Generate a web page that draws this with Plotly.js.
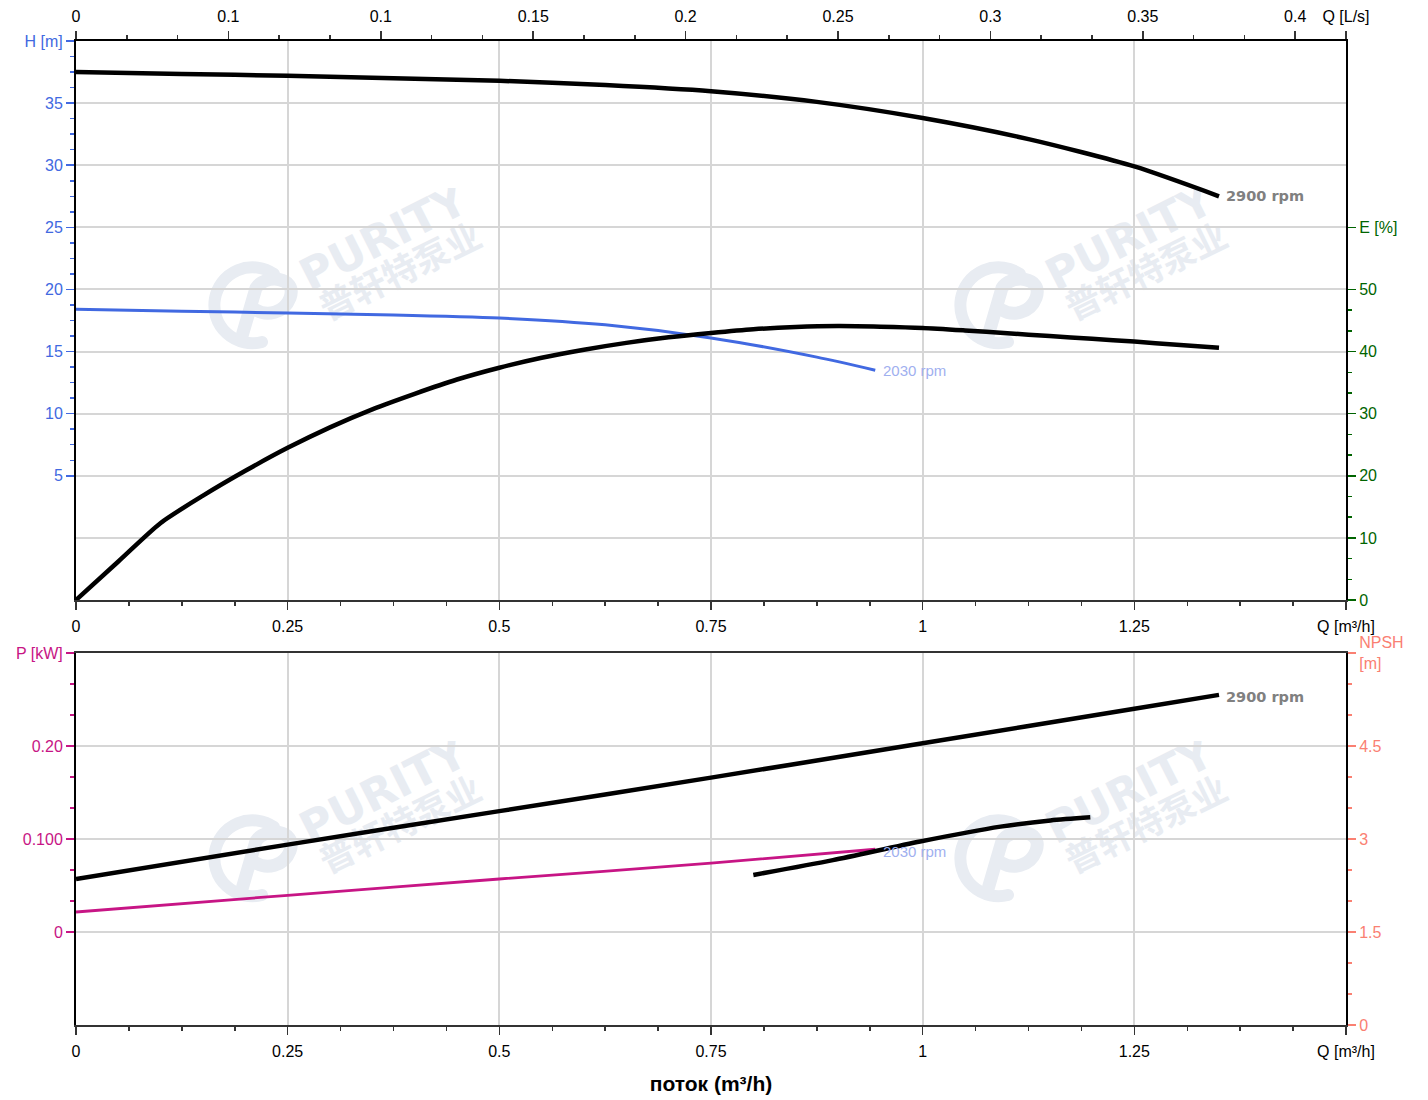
<!DOCTYPE html>
<html>
<head>
<meta charset="utf-8">
<script src="https://cdn.plot.ly/plotly-3.0.1.min.js"></script>
<style>html,body{margin:0;padding:0;background:#fff;}#chart{width:1428px;height:1100px;}</style>
</head>
<body>
<div id="chart"></div>
<script>
// ---- data ----
const qH2900 = [0, 0.125, 0.25, 0.375, 0.5, 0.625, 0.75, 0.875, 1.0, 1.125, 1.25, 1.35];
const h2900  = [37.5, 37.35, 37.2, 37.0, 36.8, 36.45, 35.95, 35.1, 33.8, 32.1, 29.9, 27.5];

const qH2030 = [0, 0.125, 0.25, 0.375, 0.5, 0.625, 0.75, 0.875, 0.944];
const h2030  = [18.4, 18.25, 18.1, 17.95, 17.7, 17.15, 16.1, 14.55, 13.5];

const qEff = [0, 0.05, 0.1, 0.15, 0.2, 0.25, 0.3, 0.35, 0.4, 0.45, 0.5, 0.55, 0.6, 0.65, 0.7, 0.75, 0.8, 0.85, 0.9, 0.95, 1.0, 1.05, 1.1, 1.15, 1.2, 1.25, 1.3, 1.35];
const eff  = [0, 6.2, 12.4, 16.8, 20.8, 24.5, 27.8, 30.7, 33.2, 35.5, 37.4, 39.0, 40.3, 41.4, 42.3, 43.0, 43.6, 43.95, 44.1, 44.0, 43.8, 43.4, 42.95, 42.5, 42.05, 41.6, 41.1, 40.6];

const qP2900 = [0, 0.25, 0.5, 0.75, 1.0, 1.25, 1.35];
const p2900  = [0.057, 0.094, 0.130, 0.166, 0.203, 0.240, 0.255];

const qP2030 = [0, 0.25, 0.5, 0.75, 0.944];
const p2030  = [0.0215, 0.0395, 0.057, 0.074, 0.089];

const qNpsh = [0.800, 0.894, 0.997, 1.092, 1.151, 1.198];
const npsh  = [2.42, 2.66, 2.96, 3.20, 3.30, 3.35];

// tick labels
const qTicks     = [0, 0.25, 0.5, 0.75, 1, 1.25, 1.5];
const qLabels    = ['0', '0.25', '0.5', '0.75', '1', '1.25', 'Q [m³/h]'];
const lpsTicks   = [0, 0.05, 0.1, 0.15, 0.2, 0.25, 0.3, 0.35, 0.4, 1.5 / 3.6];
const lpsLabels  = ['0', '0.1', '0.1', '0.15', '0.2', '0.25', '0.3', '0.35', '0.4', 'Q [L/s]'];
const hTicks     = [5, 10, 15, 20, 25, 30, 35, 40];
const hLabels    = ['5', '10', '15', '20', '25', '30', '35', 'H [m]'];
const eTicks     = [0, 10, 20, 30, 40, 50, 60];
const eLabels    = ['0', '10', '20', '30', '40', '50', 'E [%]'];
const pTicks     = [0, 0.1, 0.2, 0.3];
const pLabels    = ['0', '0.100', '0.20', 'P [kW]'];
const nTicks     = [0, 1.5, 3, 4.5, 6];
const nLabels    = ['0', '1.5', '3', '4.5', 'NPSH<br>[m]'];
const speedHigh  = '2900 rpm';
const speedLow   = '2030 rpm';
const xTitle     = 'поток (m³/h)';
const wmLatin    = 'PURITY';
const wmChinese  = '普轩特泵业';

// ---- styling ----
const FONT = 'Liberation Sans, Arial, sans-serif';
const BLUE = '#4169e1', GREEN = '#006400', MAG = '#c71585', SAL = '#fa8072';
const GRID = '#d6d6d6';

function range(a, b, step) { const r = []; for (let v = a; v <= b + 1e-9; v += step) r.push(+v.toFixed(6)); return r; }
function notMultiple(step) { return v => Math.abs(v / step - Math.round(v / step)) > 1e-6; }

const lineOf = (color, width) => ({color: color, width: width, shape: 'spline', smoothing: 0.7});
const traces = [
  {x: qH2900, y: h2900, xaxis: 'x', yaxis: 'y', mode: 'lines', line: lineOf('#000', 4.5), hoverinfo: 'skip', showlegend: false},
  {x: qH2030, y: h2030, xaxis: 'x', yaxis: 'y', mode: 'lines', line: lineOf(BLUE, 3), hoverinfo: 'skip', showlegend: false},
  {x: qEff, y: eff, xaxis: 'x', yaxis: 'y2', mode: 'lines', line: lineOf('#000', 4.5), hoverinfo: 'skip', showlegend: false},
  {x: [0], y: [null], xaxis: 'x3', yaxis: 'y', mode: 'lines', hoverinfo: 'skip', showlegend: false},
  {x: qP2900, y: p2900, xaxis: 'x2', yaxis: 'y3', mode: 'lines', line: lineOf('#000', 4.5), hoverinfo: 'skip', showlegend: false},
  {x: qP2030, y: p2030, xaxis: 'x2', yaxis: 'y3', mode: 'lines', line: lineOf(MAG, 2.8), hoverinfo: 'skip', showlegend: false},
  {x: qNpsh, y: npsh, xaxis: 'x2', yaxis: 'y4', mode: 'lines', line: lineOf('#000', 4.5), hoverinfo: 'skip', showlegend: false}
];

const TICKSIZE = 16;
const tickFont = {family: FONT, size: TICKSIZE, color: '#000'};
const minorQ = {tickvals: range(0, 1.5, 0.0625).filter(notMultiple(0.25)), ticklen: 4, tickcolor: '#333', tickwidth: 1.5, showgrid: false};

function qAxis(anchor) {
  return {
    domain: [0, 1], anchor: anchor, range: [0, 1.5], fixedrange: true,
    tickmode: 'array', tickvals: qTicks, ticktext: qLabels,
    ticks: 'outside', ticklen: 8, tickwidth: 1.5, tickcolor: '#333',
    showline: true, linecolor: '#333', linewidth: 2,
    showgrid: true, gridcolor: GRID, gridwidth: 2, zeroline: false,
    tickfont: tickFont, ticklabelstandoff: 3, minor: minorQ
  };
}

function yAxis(extra, color, minorVals) {
  return Object.assign({
    fixedrange: true, tickmode: 'array',
    ticks: 'outside', ticklen: 8, tickwidth: 1.5, tickcolor: color,
    showline: true, linecolor: '#000', linewidth: 2,
    showgrid: true, gridcolor: GRID, gridwidth: 2, zeroline: false,
    tickfont: {family: FONT, size: TICKSIZE, color: color},
    minor: {tickvals: minorVals, ticklen: 4, tickwidth: 1.5, tickcolor: color, showgrid: false}
  }, extra);
}

const layout = {
  width: 1428, height: 1100,
  margin: {l: 76, r: 82, t: 41, b: 75},
  paper_bgcolor: '#fff', plot_bgcolor: '#fff',
  font: {family: FONT, size: TICKSIZE},
  xaxis: qAxis('y'),
  xaxis2: Object.assign(qAxis('y3'), {mirror: true, title: {text: '<b>' + xTitle + '</b>', font: {family: FONT, size: 21, color: '#000'}, standoff: 17}}),
  xaxis3: {
    overlaying: 'x', side: 'top', anchor: 'y', range: [0, 1.5 / 3.6], fixedrange: true,
    tickmode: 'array', tickvals: lpsTicks, ticktext: lpsLabels,
    ticks: 'outside', ticklen: 8, tickwidth: 1.5, tickcolor: '#333',
    showline: true, linecolor: '#000', linewidth: 2, showgrid: false, zeroline: false,
    tickfont: tickFont, ticklabelstandoff: 3,
    minor: {tickvals: range(0, 0.4, 0.05 / 3).filter(notMultiple(0.05)), ticklen: 4, tickwidth: 1.5, tickcolor: '#333', showgrid: false}
  },
  yaxis: yAxis({domain: [0.4319, 1], anchor: 'x', range: [-5, 40], tickvals: hTicks, ticktext: hLabels}, BLUE, range(5, 40, 1.25).filter(notMultiple(5))),
  yaxis2: yAxis({overlaying: 'y', side: 'right', anchor: 'x', range: [0, 90], tickvals: eTicks, ticktext: eLabels}, GREEN, range(0, 50, 10 / 3).filter(notMultiple(10))),
  yaxis3: yAxis({domain: [0, 0.378], anchor: 'x2', range: [-0.1, 0.3], tickvals: pTicks, ticktext: pLabels}, MAG, range(0, 0.3, 0.1 / 3).filter(notMultiple(0.1))),
  yaxis4: yAxis({overlaying: 'y3', side: 'right', anchor: 'x2', range: [0, 6], tickvals: nTicks, ticktext: nLabels, showgrid: false}, SAL, range(0, 6, 0.5).filter(notMultiple(1.5))),
  annotations: [],
  images: []
};

const last = a => a[a.length - 1];
const rpmHigh = {family: 'DejaVu Sans, sans-serif', size: 14.5, color: '#808080'};
const rpmLow = {family: FONT, size: 15, color: '#9fb0ef'};
layout.annotations.push(
  {xref: 'x', yref: 'y', x: last(qH2900), y: last(h2900), text: '<b>' + speedHigh + '</b>', showarrow: false, xanchor: 'left', yanchor: 'middle', xshift: 5, font: rpmHigh},
  {xref: 'x', yref: 'y', x: last(qH2030), y: last(h2030), text: speedLow, showarrow: false, xanchor: 'left', yanchor: 'middle', xshift: 6, font: rpmLow},
  {xref: 'x2', yref: 'y3', x: last(qP2900), y: last(p2900), text: '<b>' + speedHigh + '</b>', showarrow: false, xanchor: 'left', yanchor: 'middle', xshift: 5, yshift: -2, font: rpmHigh},
  {xref: 'x2', yref: 'y3', x: last(qP2030), y: last(p2030), text: speedLow, showarrow: false, xanchor: 'left', yanchor: 'middle', xshift: 6, yshift: -2, font: rpmLow}
);

// faint watermark drawn below the grid and curves
const WM = '#e8ecf2';
const wmSvg =
  '<svg xmlns="http://www.w3.org/2000/svg" width="300" height="165" viewBox="0 0 300 165">' +
  '<g fill="none" stroke="' + WM + '" stroke-linecap="round">' +
  '<path d="M 74 86 A 38 38 0 1 0 62 154" stroke-width="12"/>' +
  '<path d="M 42 148 L 56 100 C 64 86 98 88 90 110 C 84 126 66 128 56 122" stroke-width="13"/>' +
  '</g>' +
  '<text x="183" y="49" text-anchor="middle" dominant-baseline="central" transform="rotate(-27 183 49)" ' +
  'font-family="DejaVu Sans, sans-serif" font-weight="bold" font-size="44" fill="' + WM + '">' + wmLatin + '</text>' +
  '<text x="199" y="81" text-anchor="middle" dominant-baseline="central" transform="rotate(-26 199 81)" ' +
  'font-family="Noto Sans CJK SC, sans-serif" font-weight="bold" font-size="35" fill="' + WM + '">' + wmChinese + '</text>' +
  '</svg>';
const wmSrc = 'data:image/svg+xml;charset=utf-8,' + encodeURIComponent(wmSvg);
const plotL = 76, plotT = 41, plotW = 1270, plotH = 984;
const px = v => (v - plotL) / plotW, py = v => 1 - (v - plotT) / plotH;
[[200, 188], [946, 188], [200, 741], [946, 741]].forEach(([x0, y0]) => {
  layout.images.push({source: wmSrc, xref: 'paper', yref: 'paper', x: px(x0), y: py(y0),
    sizex: 300 / plotW, sizey: 165 / plotH, xanchor: 'left', yanchor: 'top', sizing: 'stretch', layer: 'below'});
});

Plotly.newPlot('chart', traces, layout, {displayModeBar: false, staticPlot: true});
</script>
</body>
</html>
